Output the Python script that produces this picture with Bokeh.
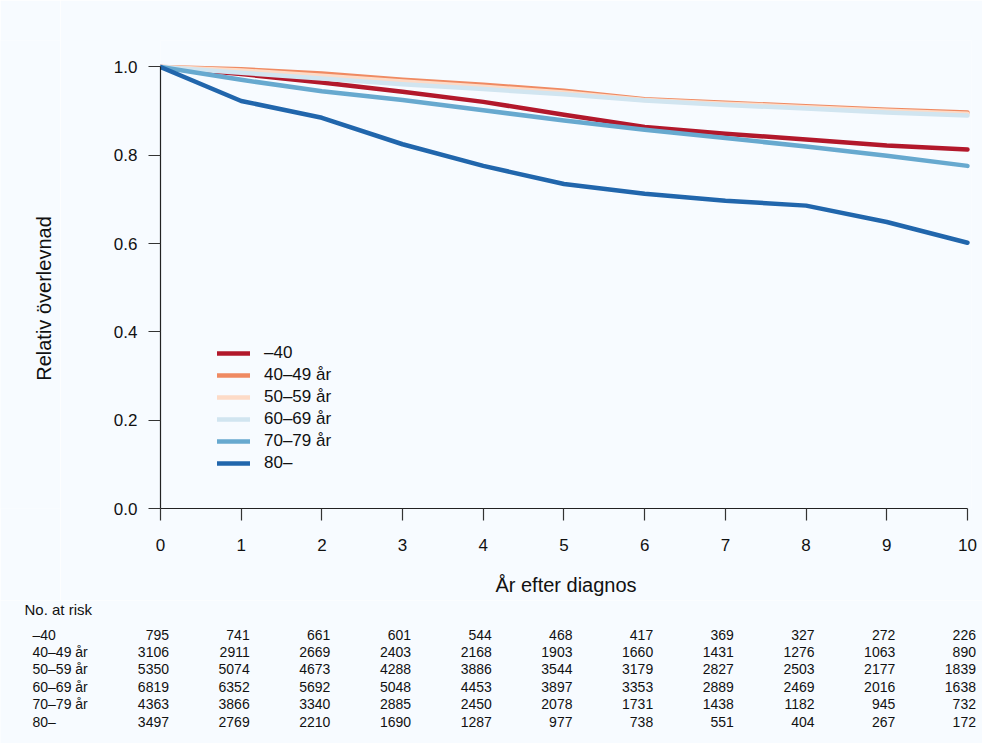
import math
from bokeh.plotting import figure
from bokeh.models import Range1d, FixedTicker, PrintfTickFormatter, ColumnDataSource
from bokeh.layouts import row
from bokeh.core.properties import value
from bokeh.embed import file_html
from bokeh.resources import INLINE

# ---------------- data ----------------
years = [0, 1, 2, 3, 4, 5, 6, 7, 8, 9, 10]
groups = ["\u201340", "40\u201349 år", "50\u201359 år", "60\u201369 år", "70\u201379 år", "80\u2013"]
colors = ["#B2182B", "#EF8A62", "#FDDBC7", "#D1E5F0", "#67A9CF", "#2166AC"]

surv_m40 = [1.0, 0.984, 0.965, 0.944, 0.921, 0.892, 0.864, 0.849, 0.836, 0.822, 0.813]
surv_40_49 = [1.0, 0.995, 0.985, 0.971, 0.960, 0.946, 0.927, 0.919, 0.911, 0.903, 0.897]
surv_50_59 = [1.0, 0.992, 0.980, 0.967, 0.955, 0.942, 0.925, 0.917, 0.909, 0.901, 0.894]
surv_60_69 = [1.0, 0.987, 0.974, 0.961, 0.950, 0.938, 0.924, 0.914, 0.906, 0.897, 0.890]
surv_70_79 = [1.0, 0.971, 0.945, 0.925, 0.902, 0.879, 0.858, 0.839, 0.820, 0.799, 0.776]
surv_80 = [1.0, 0.923, 0.885, 0.825, 0.776, 0.735, 0.713, 0.697, 0.686, 0.649, 0.602]

risk_m40 = [795, 741, 661, 601, 544, 468, 417, 369, 327, 272, 226]
risk_40_49 = [3106, 2911, 2669, 2403, 2168, 1903, 1660, 1431, 1276, 1063, 890]
risk_50_59 = [5350, 5074, 4673, 4288, 3886, 3544, 3179, 2827, 2503, 2177, 1839]
risk_60_69 = [6819, 6352, 5692, 5048, 4453, 3897, 3353, 2889, 2469, 2016, 1638]
risk_70_79 = [4363, 3866, 3340, 2885, 2450, 2078, 1731, 1438, 1182, 945, 732]
risk_80 = [3497, 2769, 2210, 1690, 1287, 977, 738, 551, 404, 267, 172]

y_ticks = [0.0, 0.2, 0.4, 0.6, 0.8, 1.0]

survs = [surv_m40, surv_40_49, surv_50_59, surv_60_69, surv_70_79, surv_80]
risks = [risk_m40, risk_40_49, risk_50_59, risk_60_69, risk_70_79, risk_80]

# ---------------- layout constants ----------------
BG = "#F7FBFF"
FONT = "Liberation Sans"
TOTAL_W = 982
LAB_W = 60                     # narrow panel holding the y-axis title
MAIN_W = TOTAL_W - LAB_W
MAIN_H = 600
TABLE_H = 143
FRAME_L, MR, MT, MB = 160, 11, 40, 92   # frame left (page px), right/top/bottom borders
ML = FRAME_L - LAB_W
X_END, Y_END = 10.05, 1.06

def base(fig):
    fig.background_fill_color = BG
    fig.border_fill_color = BG
    fig.outline_line_color = None
    fig.xgrid.visible = False
    fig.ygrid.visible = False
    return fig

# ---------------- main plot ----------------
p = base(figure(width=MAIN_W, height=MAIN_H, output_backend="svg", toolbar_location=None,
                x_range=Range1d(0, X_END), y_range=Range1d(0, Y_END),
                min_border_left=ML, min_border_right=MR, min_border_top=MT,
                min_border_bottom=MB))

for s, c, g in zip(survs, colors, groups):
    p.line(years, s, line_color=c, line_width=4.5, line_cap="round", line_join="round",
           legend_label=g)

for ax in (p.xaxis[0], p.yaxis[0]):
    ax.axis_line_color = "#222222"
    ax.axis_line_width = 1.2
    ax.major_tick_line_color = "#333333"
    ax.major_tick_line_width = 1.2
    ax.major_tick_in = 0
    ax.major_tick_out = 12
    ax.minor_tick_line_color = None
    ax.major_label_text_font = FONT
    ax.major_label_text_font_size = "17px"
    ax.major_label_text_color = "#111111"
    ax.axis_label_text_font = FONT
    ax.axis_label_text_font_size = "20px"
    ax.axis_label_text_font_style = "normal"
    ax.axis_label_text_color = "#111111"

p.xaxis.bounds = (0, 10)
p.xaxis.ticker = FixedTicker(ticks=years)
p.xaxis.major_label_standoff = 18
p.xaxis.axis_label = "År efter diagnos"
p.xaxis.axis_label_standoff = 20

p.yaxis.bounds = (0, 1)
p.yaxis.ticker = FixedTicker(ticks=y_ticks)
p.yaxis.formatter = PrintfTickFormatter(format="%.1f")
p.yaxis.major_label_standoff = 11

lg = p.legend[0]
lg.location = (57, 34)
lg.padding = 0
lg.margin = 0
lg.spacing = 0
lg.border_line_color = None
lg.background_fill_alpha = 0
lg.glyph_width = 33
lg.glyph_height = 22
lg.label_height = 22
lg.label_standoff = 14
lg.label_text_font = FONT
lg.label_text_font_size = "17px"
lg.label_text_color = "#111111"

sy = (MAIN_H - MT - MB) / Y_END
def dy(py):
    return ((MAIN_H - MB) - py) / sy

# ---------------- y-axis title panel ----------------
lf = base(figure(width=LAB_W, height=MAIN_H, output_backend="svg", toolbar_location=None,
                 x_range=Range1d(0, LAB_W), y_range=Range1d(0, Y_END),
                 x_axis_type=None, y_axis_type=None,
                 min_border_left=0, min_border_right=0, min_border_top=MT,
                 min_border_bottom=MB))
lf.text(x=[43], y=[dy(298)], text=["Relativ överlevnad"], angle=math.pi / 2,
        text_align="center", text_baseline="middle", text_font=value(FONT),
        text_font_size="20px", text_color="#111111")

# ---------------- risk table ----------------
sx = (MAIN_W - ML - MR) / X_END
tx0 = -FRAME_L / sx
tx1 = X_END + MR / sx
ROW0, ROW = 34, 17.4           # px from table top
ty1 = ROW0 / ROW
ty0 = ty1 - TABLE_H / ROW

t = base(figure(width=TOTAL_W, height=TABLE_H, output_backend="svg", toolbar_location=None,
                x_range=Range1d(tx0, tx1), y_range=Range1d(ty0, ty1),
                x_axis_type=None, y_axis_type=None,
                min_border_left=0, min_border_right=0, min_border_top=0,
                min_border_bottom=0))

xs, ys, txt = [], [], []
for i, r in enumerate(risks):
    for yr, n in zip(years, r):
        xs.append(yr)
        ys.append(-i)
        txt.append(str(n))
src = ColumnDataSource(dict(x=xs, y=ys, text=txt))
t.text(x="x", y="y", text="text", source=src, text_align="right", text_baseline="middle",
       x_offset=8.5, text_font=value(FONT), text_font_size="14px", text_color="#111111")

lab_src = ColumnDataSource(dict(x=[0] * len(groups), y=[-i for i in range(len(groups))],
                                text=groups))
t.text(x="x", y="y", text="text", source=lab_src, text_align="left", text_baseline="middle",
       x_offset=32 - FRAME_L, text_font=value(FONT), text_font_size="14px",
       text_color="#111111")

t.text(x=[0], y=[25 / ROW], text=["No. at risk"], text_align="left", text_baseline="middle",
       x_offset=24 - FRAME_L, text_font=value(FONT), text_font_size="15px",
       text_color="#111111")

top = row(lf, p, spacing=0)

with open("out.html", "w") as f:
    f.write(file_html([top, t], INLINE))
